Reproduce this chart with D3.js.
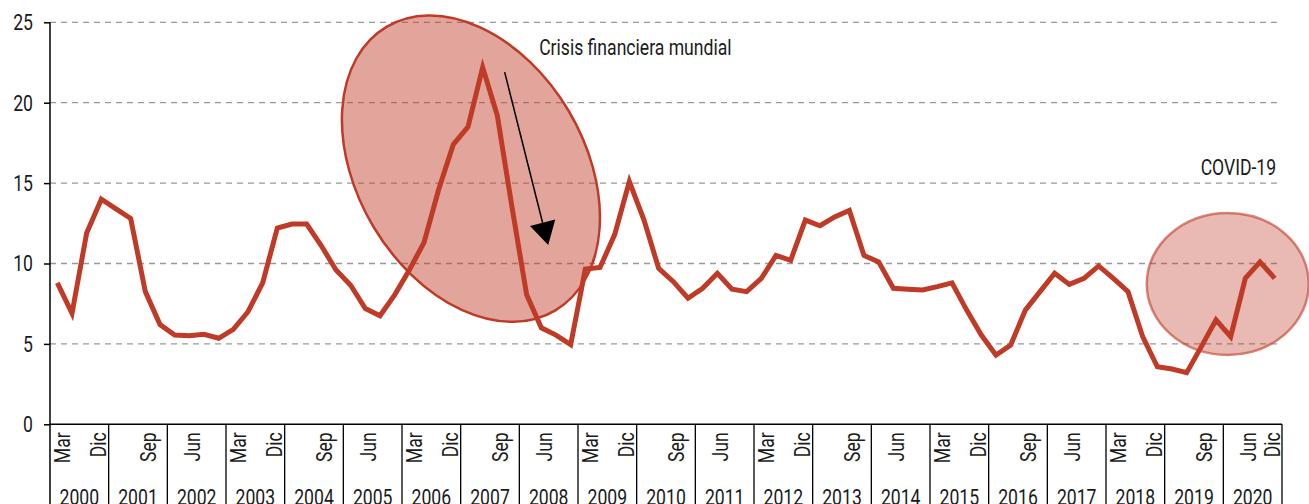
<!DOCTYPE html>
<html>
<head>
<meta charset="utf-8">
<script src="https://cdn.jsdelivr.net/npm/d3@7"></script>
<style>
  html, body { margin: 0; padding: 0; background: #fff; }
  svg { display: block; }
  text { font-family: Roboto, "DejaVu Sans Condensed", sans-serif; fill: #1a1a1a; }
</style>
</head>
<body>
<div id="chart"></div>
<script>
// quarterly values, Mar 2000 .. Dic 2020
const years = d3.range(2000, 2021).map(String);
const months = ["Mar", "Jun", "Sep", "Dic"];
const values = [
  8.8, 6.9, 11.9, 14.0,    // 2000
  13.4, 12.8, 8.25, 6.2,   // 2001
  5.55, 5.5, 5.6, 5.35,    // 2002
  5.9, 7.0, 8.8, 12.2,     // 2003
  12.45, 12.45, 11.1, 9.6, // 2004
  8.65, 7.2, 6.75, 8.05,   // 2005
  9.6, 11.3, 14.6, 17.4,   // 2006
  18.5, 22.2, 19.2, 13.5,  // 2007
  8.05, 6.0, 5.55, 4.95,   // 2008
  9.65, 9.75, 11.8, 15.1,  // 2009
  12.7, 9.7, 8.87, 7.84,   // 2010
  8.46, 9.39, 8.4, 8.25,   // 2011
  9.08, 10.5, 10.2, 12.7,  // 2012
  12.35, 12.9, 13.3, 10.5, // 2013
  10.1, 8.46, 8.4, 8.35,   // 2014
  8.56, 8.8, 7.1, 5.55,    // 2015
  4.3, 4.93, 7.1, 8.25,    // 2016
  9.4, 8.7, 9.08, 9.85,    // 2017
  9.08, 8.25, 5.45, 3.58,  // 2018
  3.44, 3.21, 4.83, 6.49,  // 2019
  5.45, 9.08, 10.1, 9.08   // 2020
];
const yTicks = [0, 5, 10, 15, 20, 25];

// annotations, in quarter index / value units
const crisis = { label: "Crisis financiera mundial", cx: 28.7, cy: 15.9, tx: 33.35, ty: 22.95,
                 arrowFrom: [31.0, 21.9], arrowTo: [33.97, 11.15] };
const covid = { label: "COVID-19", cx: 80.3, cy: 8.73, tx: 83.6, ty: 15.5 };

const width = 1309, height = 504;
const margin = { top: 22.3, left: 50, right: 27, bottom: 79.7 };
const plotBottom = height - margin.bottom;
const plotRight = width - margin.right;

const data = values.map((v, i) => ({ i: i, year: years[Math.floor(i / 4)], month: months[i % 4], value: v }));

const svg = d3.select("#chart").append("svg")
  .attr("width", width)
  .attr("height", height);

const x = d3.scaleLinear().domain([0, values.length]).range([margin.left, plotRight]);
const xYear = d3.scaleBand().domain(years).range([margin.left, plotRight]);
const y = d3.scaleLinear().domain([0, 25]).range([plotBottom, margin.top]);

const red = "#bf3a27";
const font = 22;
const squeeze = 0.8; // condensed look

// text helper: narrow text drawn via horizontal scale
function label(parent, tx, ty, str, anchor, rot) {
  const g = parent.append("g")
    .attr("transform", "translate(" + tx + "," + ty + ")" + (rot ? " rotate(" + rot + ")" : "") + " scale(" + squeeze + ",1)");
  return g.append("text")
    .attr("text-anchor", anchor || "start")
    .attr("font-size", font)
    .text(str);
}

// gridlines
svg.append("g")
  .selectAll("line")
  .data(yTicks.filter(d => d > 0))
  .join("line")
  .attr("x1", margin.left)
  .attr("x2", plotRight)
  .attr("y1", d => y(d))
  .attr("y2", d => y(d))
  .attr("stroke", "#9a9a9a")
  .attr("stroke-width", 1.3)
  .attr("stroke-dasharray", "6,5");

// ellipses
svg.append("ellipse")
  .attr("cx", 0).attr("cy", 0)
  .attr("rx", 165).attr("ry", 113.5)
  .attr("transform", "translate(" + x(crisis.cx) + "," + y(crisis.cy) + ") rotate(59.2)")
  .attr("fill", red)
  .attr("fill-opacity", 0.46)
  .attr("stroke", red)
  .attr("stroke-width", 2.5);

svg.append("ellipse")
  .attr("cx", x(covid.cx)).attr("cy", y(covid.cy))
  .attr("rx", 81).attr("ry", 71)
  .attr("fill", red)
  .attr("fill-opacity", 0.35)
  .attr("stroke", red)
  .attr("stroke-opacity", 0.6)
  .attr("stroke-width", 2.5);

// line
const line = d3.line()
  .x(d => x(d.i + 0.5))
  .y(d => y(d.value));

svg.append("path")
  .datum(data)
  .attr("d", line)
  .attr("fill", "none")
  .attr("stroke", red)
  .attr("stroke-width", 5)
  .attr("stroke-linejoin", "miter");

// arrow
const a0 = [x(crisis.arrowFrom[0]), y(crisis.arrowFrom[1])];
const a1 = [x(crisis.arrowTo[0]), y(crisis.arrowTo[1])];
const ang = Math.atan2(a1[1] - a0[1], a1[0] - a0[0]);
const headLen = 23, headHalf = 13;
const base = [a1[0] - headLen * Math.cos(ang), a1[1] - headLen * Math.sin(ang)];
svg.append("line")
  .attr("x1", a0[0]).attr("y1", a0[1])
  .attr("x2", base[0]).attr("y2", base[1])
  .attr("stroke", "#000")
  .attr("stroke-width", 1.5);
svg.append("path")
  .attr("d", "M" + a1[0] + "," + a1[1] +
    "L" + (base[0] - headHalf * Math.sin(ang)) + "," + (base[1] + headHalf * Math.cos(ang)) +
    "L" + (base[0] + headHalf * Math.sin(ang)) + "," + (base[1] - headHalf * Math.cos(ang)) + "Z")
  .attr("fill", "#000");

// annotation text
label(svg, x(crisis.tx), y(crisis.ty), crisis.label, "start");
label(svg, x(covid.tx), y(covid.ty), covid.label, "end");

// y axis
const yAxis = svg.append("g")
  .attr("transform", "translate(" + margin.left + ",0)")
  .call(d3.axisLeft(y).tickValues(yTicks).tickSize(6).tickFormat(""));
yAxis.select(".domain").remove();
yAxis.selectAll(".tick line").attr("stroke", "#000").attr("stroke-width", 1.5);

const yLabels = svg.append("g");
yTicks.forEach(t => {
  label(yLabels, margin.left - 17, y(t), String(t), "end").attr("dy", "0.36em");
});

svg.append("line")
  .attr("x1", margin.left).attr("x2", margin.left)
  .attr("y1", margin.top).attr("y2", height)
  .attr("stroke", "#000").attr("stroke-width", 1.5);

// x axis: baseline, year boxes, month labels
svg.append("line")
  .attr("x1", margin.left).attr("x2", plotRight)
  .attr("y1", plotBottom).attr("y2", plotBottom)
  .attr("stroke", "#000").attr("stroke-width", 1.5);

svg.append("g")
  .selectAll("line")
  .data(years.slice(1).concat(["end"]))
  .join("line")
  .attr("x1", d => d === "end" ? plotRight : xYear(d))
  .attr("x2", d => d === "end" ? plotRight : xYear(d))
  .attr("y1", plotBottom).attr("y2", height)
  .attr("stroke", "#000").attr("stroke-width", 1.3);

const yearG = svg.append("g");
years.forEach(yr => {
  label(yearG, xYear(yr) + xYear.bandwidth() / 2, plotBottom + 81, yr, "middle");
});

const labelShift = { Mar: 5, Jun: 3, Sep: 3, Dic: -3 };
const monthG = svg.append("g");
data.filter(d => d.i % 3 === 0 || d.i === data.length - 1).forEach(d => {
  label(monthG, x(d.i + 0.5) + labelShift[d.month], plotBottom + 8, d.month, "end", -90)
    .attr("dy", "0.36em");
});
</script>
</body>
</html>
